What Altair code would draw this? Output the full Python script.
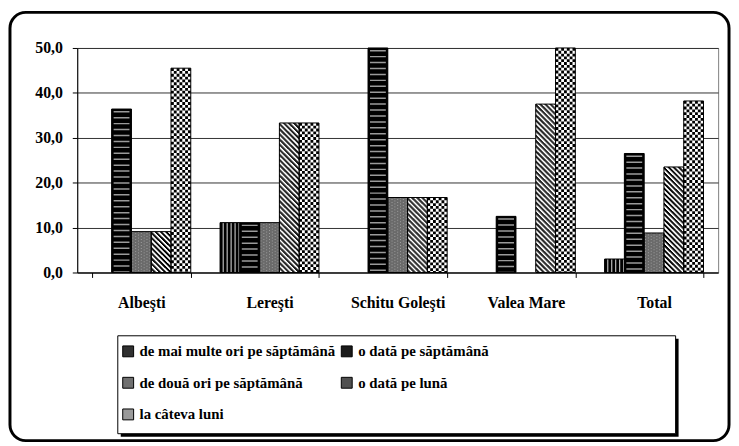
import altair as alt
import pandas as pd

categories = ["Albeşti", "Lereşti", "Schitu Goleşti", "Valea Mare", "Total"]
series = [
    "de mai multe ori pe săptămână",
    "o dată pe săptămână",
    "de două ori pe săptămână",
    "o dată pe lună",
    "la câteva luni",
]
v_mai_multe = [0.0, 11.1, 0.0, 0.0, 3.0]
v_saptamana = [36.4, 11.1, 50.0, 12.5, 26.5]
v_doua = [9.1, 11.1, 16.7, 0.0, 8.8]
v_luna = [9.1, 33.3, 16.7, 37.5, 23.5]
v_luni = [45.5, 33.3, 16.7, 50.0, 38.2]
y_ticks = [0, 10, 20, 30, 40, 50]

rows = []
for s, vals in zip(series, [v_mai_multe, v_saptamana, v_doua, v_luna, v_luni]):
    for c, v in zip(categories, vals):
        rows.append({"category": c, "series": s, "value": v})
df = pd.DataFrame(rows)
one = pd.DataFrame({"k": [0]})

FONT = "Liberation Serif"
W, H = 648, 227
N = len(categories)
BW = 100.0                      # group bandwidth in px
PI = 1 - BW * N / W             # inner padding
SUB = BW / len(series)          # bar width

tones = ["#303030", "#1a1a1a", "#707070", "#505050", "#9a9a9a"]

x_scale = alt.Scale(domain=categories, paddingInner=PI, paddingOuter=PI / 2)
x_axis = alt.Axis(
    title=None, labelFont=FONT, labelFontWeight="bold", labelFontSize=16,
    labelAngle=0, labelPadding=17, tickBand="extent",
    tickSize=5, tickColor="black", domainColor="black", grid=False,
)
y_scale = alt.Scale(domain=[0, 50], nice=False)
y_axis = alt.Axis(
    title=None, values=y_ticks, labelFont=FONT, labelFontWeight="bold",
    labelFontSize=16, tickSize=5, tickColor="black",
    labelPadding=10, domainColor="black", gridColor="#333333", grid=True,
    labelExpr="replace(format(datum.value, '.1f'), '.', ',')",
)


def X(bp=None):
    if bp is None:
        return alt.X("category:N", sort=categories, scale=x_scale, axis=x_axis)
    return alt.X("category:N", sort=categories, scale=x_scale, axis=x_axis,
                 bandPosition=bp)


Y = alt.Y("value:Q", scale=y_scale, axis=y_axis)
XO = alt.XOffset("series:N", sort=series,
                 scale=alt.Scale(domain=series, paddingInner=0, paddingOuter=0))


def only(i):
    return alt.FieldEqualPredicate(field="series", equal=series[i])


# frames
outer = alt.Chart(one).mark_rect(
    fillOpacity=0, stroke="black", strokeWidth=3, cornerRadius=16
).encode(x=alt.value(-68), x2=alt.value(659), y=alt.value(-36), y2=alt.value(397))
leg_shadow = alt.Chart(one).mark_rect(color="black").encode(
    x=alt.value(44), x2=alt.value(608), y=alt.value(294), y2=alt.value(393))
leg_box = alt.Chart(one).mark_rect(fill="white", stroke="black", strokeWidth=1).encode(
    x=alt.value(41), x2=alt.value(605), y=alt.value(291), y2=alt.value(390))

base = alt.Chart(df).transform_filter("datum.value > 0")

tone = base.mark_bar().encode(
    x=X(), xOffset=XO, y=Y,
    color=alt.Color(
        "series:N", sort=series, scale=alt.Scale(domain=series, range=tones),
        legend=alt.Legend(
            orient="none", legendX=44, legendY=299, columns=2, direction="horizontal",
            title=None, symbolType="square", symbolSize=121, symbolStrokeColor="black",
            symbolStrokeWidth=1, symbolOpacity=1, labelFont=FONT,
            labelFontWeight="bold", labelFontSize=15,
            labelLimit=400, rowPadding=16, columnPadding=4, padding=0,
            labelOffset=4,
        ),
    ),
)

p12 = base.transform_filter(
    alt.FieldOneOfPredicate(field="series", oneOf=[series[0], series[1]])
).mark_bar(fill="black").encode(x=X(), xOffset=XO, y=Y)
p3 = base.transform_filter(only(2)).mark_bar(fill="#6a6a6a").encode(x=X(), xOffset=XO, y=Y)
p45 = base.transform_filter(
    alt.FieldOneOfPredicate(field="series", oneOf=[series[3], series[4]])
).mark_bar(fill="white").encode(x=X(), xOffset=XO, y=Y)

layers = [outer, leg_shadow, leg_box, tone, p12, p3, p45]

# series 1: vertical light lines
for k in range(5):
    c = k * SUB / 5 + SUB / 10 + 1.2
    layers.append(
        base.transform_filter(only(0)).mark_rule(
            color="#bdbdbd", strokeWidth=1.2
        ).encode(x=X((0 * SUB + c) / BW), y=Y, y2=alt.datum(0))
    )

# series 2: horizontal gray lines
layers.append(
    base.transform_filter(only(1)).mark_rule(
        color="#9a9a9a", strokeWidth=16, strokeDash=[1.5, 4.5], strokeDashOffset=-2
    ).encode(x=X((1 * SUB + SUB / 2) / BW), y=Y, y2=alt.datum(0))
)

# series 3: fine mesh texture
for i in range(7):
    c = (i + 0.5) * SUB / 7
    layers.append(
        base.transform_filter(only(2)).mark_rule(
            color="#a0a0a0", strokeWidth=1, strokeDash=[1, 2],
            strokeDashOffset=(i % 2) * 1.5,
        ).encode(x=X((2 * SUB + c) / BW), y=Y, y2=alt.datum(0))
    )

# series 4: diagonal stripes
for i in range(20):
    c = i * SUB / 20 + SUB / 40
    layers.append(
        base.transform_filter(only(3)).mark_rule(
            color="black", strokeWidth=1.15, strokeDash=[2.6, 2.6],
            strokeDashOffset=(-i) % 5.2,
        ).encode(x=X((3 * SUB + c) / BW), y=Y, y2=alt.datum(0))
    )

# series 5: checker
NC = 7
cw = SUB / NC
for j in range(NC):
    c = (j + 0.5) * cw
    layers.append(
        base.transform_filter(only(4)).mark_rule(
            color="black", strokeWidth=cw, strokeDash=[cw, cw],
            strokeDashOffset=cw if j % 2 else 0,
        ).encode(x=X((4 * SUB + c) / BW), y=Y, y2=alt.datum(0))
    )

outline = base.mark_bar(fillOpacity=0, stroke="black", strokeWidth=1).encode(
    x=X(), xOffset=XO, y=Y)
layers.append(outline)

chart = alt.layer(*layers).properties(
    width=W, height=H,
    padding=0,
    view=alt.ViewBackground(stroke="#808080", strokeWidth=1),
)

chart.save("out.html", embed_options={"renderer": "svg", "actions": False})
